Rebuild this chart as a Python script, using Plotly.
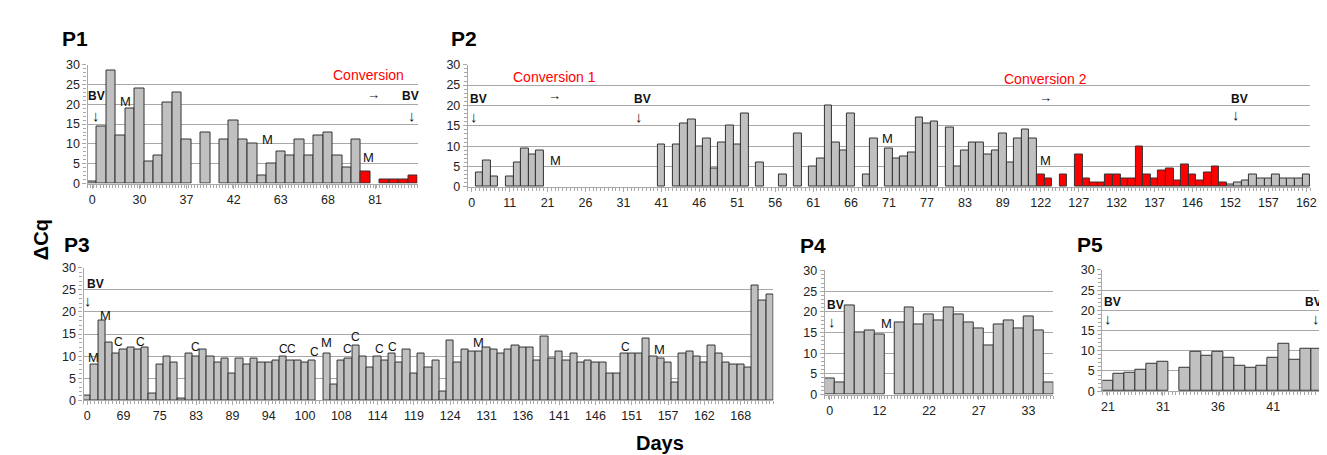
import plotly.graph_objects as go

W, H = 1327, 455

# ---------------- data ----------------
p1_values = [0.5, 14.5, 28.5, 12, 19, 24, 5.5, 7, 20.5, 23, 11, None, 13, None, 11, 16, 11, 10, 2, 5,
             8, 7, 11, 7, 12, 13, 7, 4, 11, 3, None, 1, 1, 1, 2]
p1_conversion = [False] * 29 + [True] * 6
p1_ticks = ["0", "30", "37", "42", "63", "68", "81"]

p2_values = [None, 3.5, 6.5, 2.5, None, 2.5, 6, 9.5, 8, 9,
             None, None, None, None, None, None, None, None, None, None,
             None, None, None, None, None, 10.5, None, 10.5, 15.5, 16.5,
             10, 12, 4.5, 11, 15, 10.5, 18, None, 6, None,
             None, 3, None, 13, None, 5, 7, 20, 11, 9,
             18, None, 3, 12, None, 9.5, 7, 7.5, 8.5, 17,
             15.5, 16, None, 14.5, 5, 9, 11, 11, 8, 9,
             13, 6, 12, 14, 12, 3, 2, None, 3, None,
             8, 2, 1, 1, 3, 3, 2, 2, 10, 3,
             2, 4, 4.5, 1.5, 5.5, 3, 1.5, 3.5, 5, 1,
             0.5, 1, 1.5, 3, 2, 2, 3, 2, 2, 2, 3]
p2_conversion = [False] * 75 + [True] * 25 + [False] * 11
p2_ticks = ["0", "11", "21", "26", "31", "41", "46", "51", "56", "61", "66", "71", "77", "83", "89",
            "122", "127", "132", "137", "146", "152", "157", "162"]

p3_values = [1, 8, 18, 13, 10.5, 11.5, 12, 11.5, 12, 1.5,
             8, 10, 8.5, 0.5, 10.5, 10, 11.5, 10, 8.5, 9.5,
             6, 9.5, 8, 9.5, 8.5, 8.5, 9, 10, 9, 9,
             8.5, 9, None, 10.5, 3.5, 9, 9.5, 12.5, 10, 7.5,
             10, 9, 10.5, 8.5, 11.5, 6, 10.5, 7.5, 9, 2,
             13.5, 8.5, 11.5, 11, 11, 12, 11.5, 10.5, 11.5, 12.5,
             12, 12, 9, 14.5, 9.5, 11, 9, 10.5, 8.5, 9,
             8.5, 8.5, 6, 6, 10.5, 10.5, 10.5, 14, 10, 9.5,
             8.5, 4, 10.5, 11, 10, 8.5, 12.5, 10.5, 8.5, 8,
             8, 7.5, 26, 22.5, 24]
p3_ticks = ["0", "69", "75", "83", "89", "94", "100", "108", "114", "119", "124", "131", "136",
            "141", "146", "151", "157", "162", "168"]

p4_values = [3.8, 3, 21.5, 15, 15.5, 14.5, None, 17.5, 21, 17, 19.5, 18, 21, 19.5, 17.5, 16,
             12, 17, 18, 16, 19, 15.5, 3]
p4_ticks = ["0", "12", "22", "27", "33"]

p5_values = [2.7, 4.2, 4.6, 5.2, 6.7, 7.2, None, 5.7, 9.7, 8.7, 9.7, 8.2, 6.2, 5.7, 6.2, 8.2,
             11.7, 7.8, 10.6, 10.6]
p5_ticks = ["21", "31", "36", "41"]

# ---------------- styles ----------------
GRAY = "#C0C0C0"
RED = "#FF0000"
GRID = "#A8A8A8"
EDGE = "#333333"
FONT = "Liberation Sans, Arial, sans-serif"


def px_dom_x(a, b):
    return [a / W, b / W]


def px_dom_y(top, bottom):
    return [1 - bottom / H, 1 - top / H]


panels = [
    # axis suffix, values, conversion flags, ticks, x domain px, y domain px, minor dtick
    ("", p1_values, p1_conversion, p1_ticks, (79, 411), (52, 174.5), 1 / 3),
    ("2", p2_values, p2_conversion, p2_ticks, (461.7, 1309), (52, 178), 0.5),
    ("3", p3_values, None, p3_ticks, (75, 769), (261, 397.7), 0.5),
    ("4", p4_values, None, p4_ticks, (820.7, 1050.7), (264, 391.7), 1 / 3),
    ("5", p5_values, None, p5_ticks, (1100, 1321.7), (263.3, 388.3), 1 / 3),
]

fig = go.Figure()
layout = {}
for suffix, vals, conv, ticks, xd, yd, mdt in panels:
    n = len(vals)
    cats = list(range(n))
    colors = [RED if (conv and conv[i]) else GRAY for i in range(n)]
    fig.add_trace(go.Bar(
        x=cats, y=vals, width=1,
        marker=dict(color=colors, line=dict(color=EDGE, width=1)),
        xaxis="x" + suffix, yaxis="y" + suffix, showlegend=False, hoverinfo="skip",
    ))
    tickvals = list(range(0, n, 5))[:len(ticks)]
    layout["xaxis" + suffix] = dict(
        domain=px_dom_x(*xd), anchor="y" + suffix, range=[-0.5, n - 0.5],
        tickmode="array", tickvals=tickvals, ticktext=ticks,
        showgrid=False, zeroline=False, showline=True, linecolor=GRID, linewidth=1.2,
        ticks="outside", ticklen=4, tickcolor=GRID,
        minor=dict(tick0=-0.5, dtick=mdt, ticks="outside", ticklen=3, tickcolor=GRID),
        tickfont=dict(family=FONT, size=12.5, color="#222"),
        fixedrange=True,
    )
    layout["yaxis" + suffix] = dict(
        domain=px_dom_y(*yd), anchor="x" + suffix, range=[0, 30.05],
        tickmode="linear", tick0=0, dtick=5,
        showgrid=True, gridcolor=GRID, gridwidth=1.3, zeroline=False,
        showline=True, linecolor=GRID, linewidth=1.2,
        ticks="outside", ticklen=4, tickcolor=GRID,
        minor=dict(dtick=1, ticks="outside", ticklen=3, tickcolor=GRID, showgrid=False),
        tickfont=dict(family=FONT, size=12.5, color="#222"),
        fixedrange=True,
    )

annotations = []


def ann(text, x, y, axis="", size=12, color="#111", bold=False):
    if bold:
        text = "<b>" + text + "</b>"
    annotations.append(dict(text=text, x=x, y=y, xref="x" + axis, yref="y" + axis,
                            showarrow=False, font=dict(family=FONT, size=size, color=color),
                            xanchor="center", yanchor="middle"))


def bv(x_text, y_text, x_arrow, y_arrow, axis):
    ann("BV", x_text, y_text, axis, size=12, bold=True)
    ann("↓", x_arrow, y_arrow, axis, size=15)


# P1
bv(0.45, 22.2, 0.4, 17.3, "")
ann("M", 3.5, 20.7, "", 13)
ann("M", 18.55, 11.1, "", 13)
ann("M", 29.3, 6.5, "", 13)
ann("Conversion", 29.3, 27.3, "", 14, RED)
ann("→", 29.8, 22.4, "", 13)
bv(33.8, 22.2, 33.9, 17.3, "")

# P2
bv(0.94, 21.6, 0.36, 17.4, "2")
ann("Conversion 1", 10.85, 27.1, "2", 14, RED)
ann("→", 10.85, 22.5, "2", 13)
ann("M", 10.98, 6.4, "2", 13)
bv(22.5, 21.6, 22.0, 17.4, "2")
ann("M", 54.76, 11.8, "2", 13)
ann("Conversion 2", 75.6, 26.5, "2", 14, RED)
ann("→", 75.6, 21.9, "2", 13)
ann("M", 75.6, 6.5, "2", 13)
bv(101.2, 21.7, 100.7, 17.8, "2")

# P3
bv(1.14, 26.3, 0.18, 22.5, "3")
ann("M", 0.87, 9.6, "3", 13)
ann("M", 2.5, 19.2, "3", 13)
for cx, cy in [(4.3, 13.3), (7.3, 13.3), (14.97, 12.0), (27.0, 11.6), (28.2, 11.6), (31.26, 10.9),
               (35.9, 11.6), (37.0, 14.4), (40.2, 11.6), (42.1, 12.0), (74.1, 12.0)]:
    ann("C", cx, cy, "3", 12)
ann("M", 32.9, 13.1, "3", 13)
ann("M", 53.85, 13.1, "3", 13)
ann("M", 78.8, 11.6, "3", 13)

# P4
bv(0.6, 21.8, 0.26, 17.8, "4")
ann("M", 5.7, 17.1, "4", 13)

# P5
bv(0.4, 22.0, 0.04, 18.1, "5")
bv(18.7, 22.0, 18.9, 18.1, "5")


def paper_text(text, x_px, y_px, size, angle=0):
    annotations.append(dict(text="<b>" + text + "</b>", x=x_px / W, y=1 - y_px / H,
                            xref="paper", yref="paper", showarrow=False, textangle=angle,
                            font=dict(family=FONT, size=size, color="#000"),
                            xanchor="center", yanchor="middle"))


paper_text("P1", 66.5, 25, 21)
paper_text("P2", 458, 25, 21)
paper_text("P3", 68, 237, 21)
paper_text("P4", 809, 238, 21)
paper_text("P5", 1088, 237, 21)
paper_text("ΔCq", 33, 232, 20, angle=-90)
paper_text("Days", 655, 442, 20)

fig.update_layout(
    width=W, height=H, margin=dict(l=0, r=0, t=0, b=0),
    paper_bgcolor="white", plot_bgcolor="white",
    bargap=0, annotations=annotations, **layout,
)

fig.write_html("out.html")
